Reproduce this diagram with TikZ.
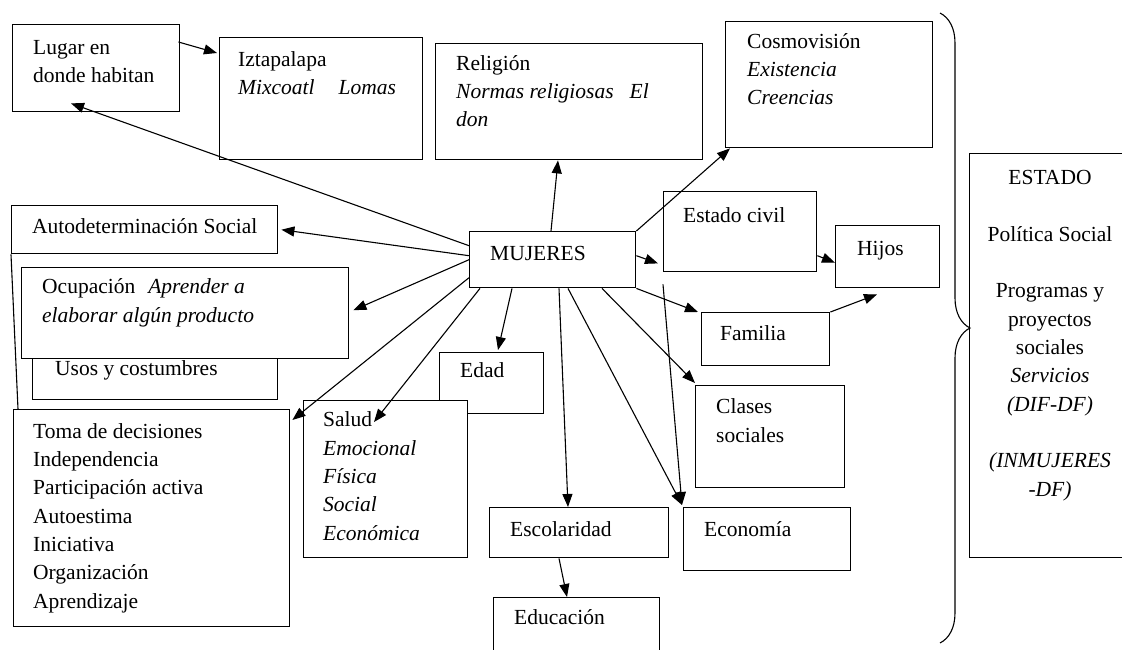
\documentclass[tikz,border=0pt]{standalone}
\usepackage{fontspec}
\setmainfont{Liberation Serif}
\usetikzlibrary{arrows.meta,calc,decorations.pathreplacing}

\begin{document}
\begin{tikzpicture}[x=1pt,y=-1pt,>={Triangle[length=13pt,width=10pt]},
  caja/.style={draw,fill=white,line width=1.4pt,inner sep=0pt,anchor=north west},
  txt/.style={inner sep=0pt,align=left,anchor=base west,font=\fontsize{21.5}{28.3}\selectfont},
  flecha/.style={->,line width=1.1pt}]
\useasboundingbox (0,0) rectangle (1122,650);
% cajas
\node[caja,minimum width=167,minimum height=87] (lug) at (12,24) {};
\node[caja,minimum width=203,minimum height=122] (izt) at (219,37) {};
\node[caja,minimum width=267,minimum height=116] (rel) at (435,43) {};
\node[caja,minimum width=207,minimum height=126] (cos) at (725,21) {};
\node[caja,minimum width=266,minimum height=48] (aut) at (11,205) {};
\node[caja,minimum width=245,minimum height=69] (usos) at (32,330) {};
\node[caja,minimum width=327,minimum height=91] (ocu) at (21,267) {};
\node[caja,minimum width=166,minimum height=56] (muj) at (469,231) {};
\node[caja,minimum width=153,minimum height=80] (est) at (663,191) {};
\node[caja,minimum width=104,minimum height=62] (hij) at (835,225) {};
\node[caja,minimum width=128,minimum height=53] (fam) at (701,312) {};
\node[caja,minimum width=104,minimum height=61] (eda) at (439,352) {};
\node[caja,minimum width=164,minimum height=157] (sal) at (303,400) {};
\node[caja,minimum width=149,minimum height=102] (cla) at (695,385) {};
\node[caja,minimum width=276,minimum height=217] (tom) at (13,409) {};
\node[caja,minimum width=179,minimum height=50] (esc) at (489,507) {};
\node[caja,minimum width=167,minimum height=63] (eco) at (683,507) {};
\node[caja,minimum width=166,minimum height=63] (edu) at (493,597) {};
\node[caja,minimum width=166,minimum height=404] (edo) at (969,153) {};

% textos (anclados en la linea base de su ultima linea)
\node[txt] (lug-t) at (33,83) {Lugar en\\donde habitan};
\node[txt] (izt-t) at (238,95) {Iztapalapa\\\textit{Mixcoatl}\hspace{24pt}\textit{Lomas}};
\node[txt] (rel-t) at (456,127) {Religión\\\textit{Normas religiosas}\hspace{16pt}\textit{El}\\\textit{don}};
\node[txt] (cos-t) at (747,105) {Cosmovisión\\\textit{Existencia}\\\textit{Creencias}};
\node[txt] (aut-t) at (32,233) {Autodeterminación Social};
\node[txt] (usos-t) at (55,375) {Usos y costumbres};
\node[txt] (ocu-t) at (42,322) {Ocupación\hspace{13pt}\textit{Aprender a}\\\textit{elaborar algún producto}};
\node[txt] (muj-t) at (490,260) {MUJERES};
\node[txt] (est-t) at (683,222) {Estado civil};
\node[txt] (hij-t) at (857,255) {Hijos};
\node[txt] (fam-t) at (720,340) {Familia};
\node[txt] (eda-t) at (460,377) {Edad};
\node[txt] (cla-t) at (716,442) {Clases\\sociales};
\node[txt] (sal-t) at (323,540) {Salud\\\textit{Emocional}\\\textit{Física}\\\textit{Social}\\\textit{Económica}};
\node[txt] (tom-t) at (33,608) {Toma de decisiones\\Independencia\\Participación activa\\Autoestima\\Iniciativa\\Organización\\Aprendizaje};
\node[txt] (esc-t) at (510,536) {Escolaridad};
\node[txt] (eco-t) at (704,536) {Economía};
\node[txt] (edu-t) at (514,624) {Educación};
\node[txt,align=center,anchor=base] (edo-t) at (1050,496) {ESTADO\\[28.3pt]Política Social\\[28.3pt]Programas y\\proyectos\\sociales\\\textit{Servicios}\\\textit{(DIF-DF)}\\[28.3pt]\textit{(INMUJERES}\\\textit{-DF)}};

% flechas
\draw[flecha] ($(lug.north east)+(-2,18)$) -- ($(izt.north west)+(-2,16)$);
\draw[flecha] ($(muj.west)+(0,-14)$) -- ($(lug.south west)+(59,-9)$);
\draw[flecha] ($(muj.north west)+(82,0)$) -- ($(rel.south west)+(123,0)$);
\draw[flecha] (muj.north east) -- ($(cos.south west)+(5,0)$);
\draw[flecha] ($(muj.west)+(0,-4)$) -- ($(aut.east)+(3,0)$);
\draw[flecha] (muj.west) -- ($(ocu.east)+(4,-3)$);
\draw[flecha] ($(muj.west)+(0,18)$) -- ($(tom.north east)+(2,11)$);
\draw[flecha] ($(muj.south west)+(11,0)$) -- ($(sal.north west)+(71,22)$);
\draw[flecha] ($(muj.south west)+(43,0)$) -- ($(eda.north west)+(59,-2)$);
\draw[flecha] ($(muj.south west)+(90,0)$) -- ($(esc.north west)+(79,0)$);
\draw[flecha] ($(muj.south west)+(99,0)$) -- ($(eco.north west)+(-1,-2)$);
\draw[flecha] ($(muj.south west)+(133,0)$) -- ($(cla.north west)+(0,-2)$);
\draw[flecha] (muj.south east) -- ($(fam.north west)+(-3,0)$);
\draw[flecha] ($(muj.east)+(0,-4)$) -- ($(est.south west)+(-5,-9)$);
\draw[flecha] ($(est.east)+(0,24)$) -- ($(hij.west)+(0,6)$);
\draw[flecha] (fam.north east) -- ($(hij.south west)+(42,6)$);
\draw[flecha] ($(est.south west)+(0,12)$) -- ($(eco.north west)+(-1,-2)$);
\draw[flecha] ($(esc.south west)+(70,0)$) -- ($(edu.north west)+(74,0)$);
\draw[line width=1.1pt] (aut.south west) -- ($(tom.north west)+(5,0)$);

% llave
\draw[line width=1.1pt,decorate,decoration={brace,amplitude=30pt}] (940,13) -- (940,643);
\end{tikzpicture}
\end{document}
